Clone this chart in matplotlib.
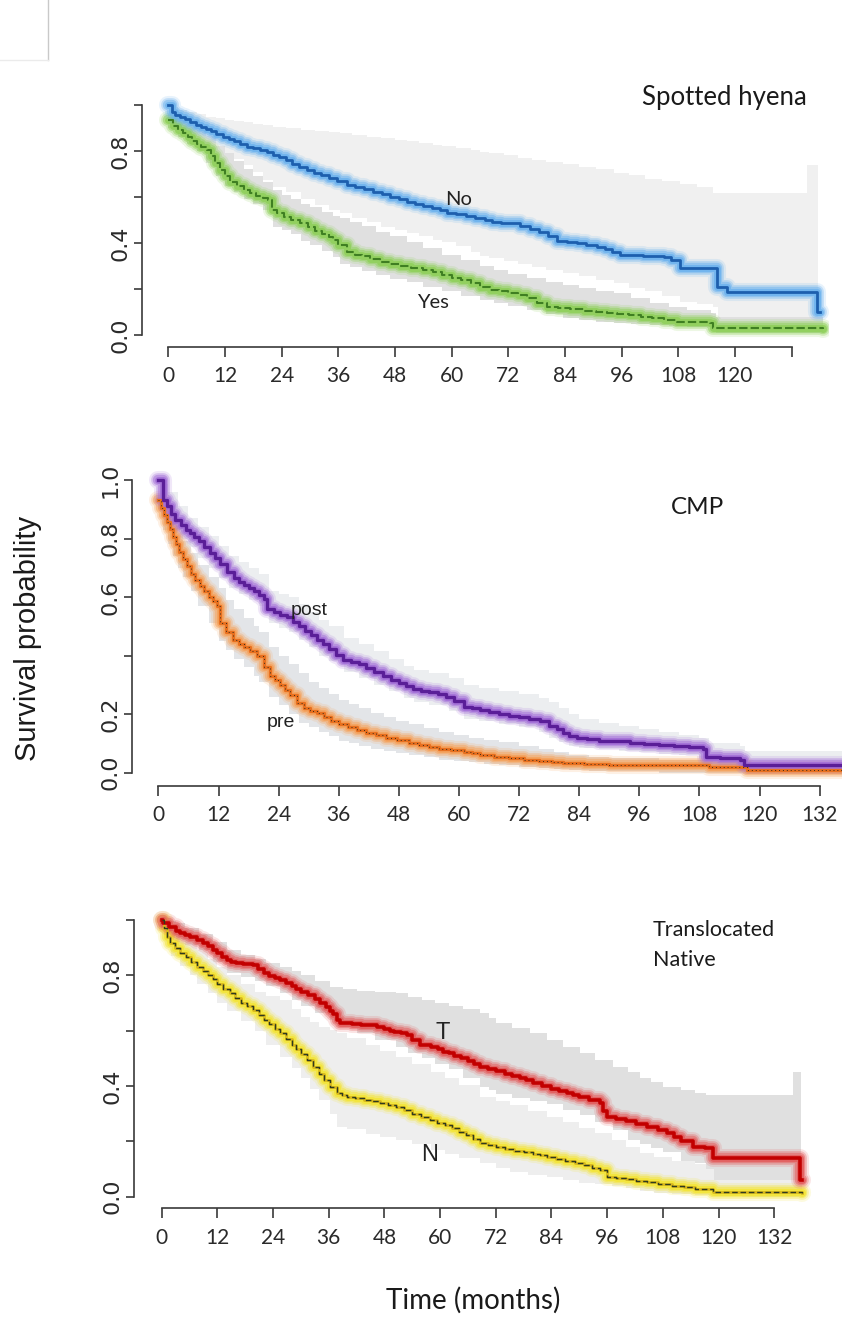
import matplotlib
matplotlib.use("Agg")
import matplotlib.pyplot as plt
from matplotlib import font_manager
from matplotlib.lines import Line2D

# ---------------- data ----------------
# Kaplan-Meier curves as (month, survival) steps; CIs as (month, lower, upper)
# Panel 1: Spotted hyena
no_curve = [(0, 1.0), (0.7, 0.97), (1.5, 0.958), (2.5, 0.948), (3.5, 0.938), (4.6, 0.927), (5.8, 0.915),
            (7, 0.905), (8, 0.895), (9, 0.885), (10.2, 0.873), (11.6, 0.862), (12.8, 0.852), (14, 0.842),
            (15.2, 0.831), (16.6, 0.819), (18, 0.812), (19.5, 0.805), (21, 0.795), (22.2, 0.783),
            (23.5, 0.772), (25, 0.76), (26.3, 0.745), (27.7, 0.732), (29.3, 0.717), (30.8, 0.706),
            (32.3, 0.695), (34, 0.683), (35.8, 0.668), (37.8, 0.652), (39.5, 0.645), (41.5, 0.636),
            (43.4, 0.623), (45.3, 0.612), (47, 0.60), (48.8, 0.59), (50.5, 0.58), (52.3, 0.571),
            (54, 0.562), (55.8, 0.553), (57.5, 0.544), (59, 0.529), (61, 0.524), (63, 0.516), (65, 0.507),
            (67, 0.499), (68.5, 0.493), (70.5, 0.489), (72.5, 0.485), (74.5, 0.475), (76.5, 0.462),
            (78.5, 0.448), (80.5, 0.43), (82.3, 0.41), (84.5, 0.404), (86.5, 0.398), (88.5, 0.392),
            (90.7, 0.384), (92.5, 0.375), (94, 0.362), (95.7, 0.348), (98, 0.346), (100.5, 0.344),
            (103, 0.342), (105, 0.34), (106.5, 0.325), (108.4, 0.29), (116.1, 0.21), (118.3, 0.188),
            (137.4, 0.10), (138, 0.10)]
no_ci = [(0, 1.0, 1.0), (1, 0.95, 0.99), (2, 0.92, 0.98), (4, 0.89, 0.97), (6, 0.86, 0.96), (8, 0.83, 0.95),
         (10, 0.81, 0.945), (12, 0.79, 0.935), (14, 0.765, 0.93), (16, 0.74, 0.925), (18, 0.71, 0.918),
         (20, 0.675, 0.912), (22.2, 0.645, 0.905), (25, 0.62, 0.90), (28, 0.59, 0.893), (31, 0.565, 0.887),
         (34, 0.545, 0.882), (36.4, 0.53, 0.877), (39, 0.51, 0.87), (42, 0.49, 0.862), (45, 0.47, 0.856),
         (48, 0.455, 0.85), (50.5, 0.442, 0.843), (53, 0.43, 0.836), (56, 0.415, 0.828), (58, 0.405, 0.82),
         (61, 0.385, 0.812), (64, 0.36, 0.803), (66, 0.345, 0.797), (68, 0.333, 0.79), (71, 0.32, 0.781),
         (74, 0.31, 0.77), (77, 0.295, 0.762), (80, 0.283, 0.753), (83.5, 0.27, 0.743), (87, 0.255, 0.732),
         (90.5, 0.24, 0.72), (94.3, 0.225, 0.705), (97.5, 0.205, 0.695), (101, 0.19, 0.68),
         (104.5, 0.17, 0.668), (108.4, 0.145, 0.655), (111.9, 0.135, 0.645), (115.4, 0.123, 0.617),
         (116.5, 0.07, 0.617), (135.2, 0.07, 0.74), (137.6, 0.07, 0.74)]

yes_curve = [(0, 0.935), (1, 0.91), (2.1, 0.893), (3.2, 0.877), (4.1, 0.862), (5, 0.845), (6, 0.832),
             (7, 0.818), (8.1, 0.804), (9, 0.78), (9.9, 0.748), (10.9, 0.717), (12, 0.69), (13.1, 0.667),
             (14.5, 0.65), (16, 0.632), (17.3, 0.616), (18.6, 0.605), (20, 0.596), (21.2, 0.587),
             (21.9, 0.545), (23, 0.53), (24.5, 0.515), (26, 0.50), (27.9, 0.486), (29.5, 0.468),
             (31, 0.452), (32.5, 0.438), (34, 0.424), (34.9, 0.413), (36, 0.39), (37.8, 0.36),
             (39.5, 0.35), (41, 0.342), (42.8, 0.332), (44.8, 0.319), (47, 0.31), (49, 0.302),
             (51.5, 0.293), (54, 0.283), (56, 0.272), (58, 0.26), (60, 0.25), (62, 0.24), (64, 0.225),
             (66, 0.21), (68.1, 0.196), (70, 0.19), (72, 0.182), (74, 0.172), (76, 0.16), (78, 0.14),
             (80.1, 0.123), (82.5, 0.118), (85, 0.112), (88, 0.105), (90.5, 0.10), (92.8, 0.094),
             (95, 0.09), (97.5, 0.085), (100, 0.08), (102.5, 0.074), (105, 0.066), (107.7, 0.058),
             (111, 0.055), (114.7, 0.051), (115.4, 0.029), (138.7, 0.025)]
yes_ci = [(0, 0.90, 0.96), (2, 0.86, 0.94), (4, 0.83, 0.92), (6, 0.80, 0.90), (8, 0.75, 0.865),
          (10, 0.69, 0.82), (12, 0.65, 0.79), (14, 0.62, 0.755), (16, 0.59, 0.72), (18, 0.57, 0.69),
          (20, 0.545, 0.665), (22.2, 0.47, 0.63), (24, 0.455, 0.61), (26, 0.44, 0.59), (28, 0.41, 0.57),
          (30, 0.39, 0.555), (32.5, 0.365, 0.535), (34.9, 0.34, 0.518), (36.4, 0.31, 0.507),
          (38.5, 0.295, 0.49), (41, 0.28, 0.473), (44, 0.262, 0.45), (47, 0.245, 0.43),
          (50.5, 0.23, 0.406), (54, 0.21, 0.38), (58, 0.19, 0.35), (62, 0.17, 0.325), (66, 0.152, 0.30),
          (69, 0.14, 0.282), (72, 0.128, 0.265), (76, 0.11, 0.248), (80, 0.09, 0.232),
          (83.5, 0.075, 0.218), (87, 0.065, 0.205), (90.5, 0.058, 0.192), (94.3, 0.052, 0.181),
          (98, 0.047, 0.16), (102, 0.043, 0.14), (106, 0.038, 0.122), (109.8, 0.033, 0.109),
          (115, 0.025, 0.094), (116, 0.01, 0.08), (138.7, 0.01, 0.08)]

# Panel 2: CMP
post_curve = [(0, 1.0), (1, 0.932), (1.8, 0.91), (2.5, 0.885), (3.3, 0.863), (4.5, 0.845), (5.5, 0.83),
              (6.3, 0.818), (7.2, 0.805), (8.2, 0.79), (9.2, 0.77), (10.3, 0.75), (11.2, 0.732),
              (12.2, 0.712), (13.6, 0.685), (15, 0.665), (16, 0.652), (17, 0.641), (18, 0.63), (19, 0.62),
              (20, 0.608), (21, 0.595), (21.6, 0.56), (23, 0.548), (24.3, 0.54), (25.6, 0.533),
              (26.8, 0.515), (28, 0.50), (29.2, 0.485), (30.4, 0.47), (31.6, 0.455), (32.8, 0.44),
              (34, 0.422), (35.5, 0.403), (36.9, 0.385), (38.5, 0.377), (40, 0.37), (41.5, 0.358),
              (43, 0.345), (44.9, 0.332), (46.5, 0.318), (48, 0.305), (49.5, 0.295), (50.9, 0.285),
              (52.5, 0.28), (54, 0.275), (55.8, 0.268), (57.5, 0.26), (59, 0.245), (60.9, 0.225),
              (62.5, 0.22), (64.2, 0.214), (66, 0.207), (68, 0.20), (70, 0.195), (72, 0.19), (74, 0.184),
              (76.2, 0.176), (78, 0.16), (79.5, 0.148), (80.8, 0.137), (82, 0.125), (83.5, 0.118),
              (85.5, 0.114), (88, 0.11), (90.5, 0.107), (94.1, 0.103), (97, 0.099), (100, 0.095),
              (103, 0.092), (106, 0.088), (108.8, 0.08), (109.4, 0.055), (112, 0.05), (116.1, 0.044),
              (116.8, 0.026), (140, 0.026)]
post_ci = [(0, 1.0, 1.0), (1, 0.87, 0.985), (2, 0.84, 0.96), (4, 0.80, 0.91), (6, 0.77, 0.87),
           (8, 0.735, 0.84), (10, 0.70, 0.81), (12, 0.665, 0.775), (14, 0.63, 0.74), (16, 0.61, 0.72),
           (18, 0.59, 0.70), (20, 0.57, 0.68), (22, 0.51, 0.62), (24, 0.495, 0.61), (26, 0.48, 0.60),
           (28, 0.455, 0.575), (30, 0.43, 0.55), (32, 0.40, 0.52), (34, 0.38, 0.50), (37, 0.345, 0.46),
           (40, 0.325, 0.44), (43, 0.30, 0.415), (46, 0.28, 0.39), (49, 0.255, 0.365), (51, 0.24, 0.35),
           (54, 0.23, 0.34), (58, 0.21, 0.325), (61, 0.185, 0.30), (64, 0.175, 0.29), (68, 0.165, 0.28),
           (72, 0.155, 0.27), (76, 0.14, 0.255), (78, 0.12, 0.24), (80, 0.105, 0.22), (82, 0.09, 0.20),
           (84, 0.085, 0.185), (88, 0.08, 0.17), (92, 0.075, 0.16), (96, 0.07, 0.15), (100, 0.065, 0.14),
           (104, 0.06, 0.13), (108, 0.05, 0.12), (110, 0.03, 0.10), (116, 0.02, 0.09),
           (117, 0.005, 0.075), (140, 0.005, 0.075)]

pre_curve = [(0, 0.93), (0.6, 0.905), (1.2, 0.88), (1.8, 0.855), (2.3, 0.831), (2.9, 0.805), (3.5, 0.78),
             (4.2, 0.755), (5, 0.729), (5.7, 0.705), (6.5, 0.68), (7.4, 0.658), (8.3, 0.638), (9.1, 0.62),
             (10, 0.60), (10.8, 0.585), (11.6, 0.569), (12.3, 0.512), (13.5, 0.48), (14.9, 0.455),
             (16, 0.44), (17, 0.43), (18.3, 0.415), (19.6, 0.398), (21, 0.36), (22.3, 0.33),
             (23.2, 0.315), (24.2, 0.30), (25.2, 0.283), (26.2, 0.265), (27.6, 0.237), (29, 0.22),
             (30.3, 0.21), (31.6, 0.203), (33, 0.19), (34.5, 0.178), (36, 0.165), (37.8, 0.155),
             (39.6, 0.146), (41.5, 0.137), (43.5, 0.128), (45.5, 0.12), (47.6, 0.112), (50, 0.103),
             (52, 0.095), (54, 0.088), (56, 0.082), (58.5, 0.077), (60.9, 0.072), (62.5, 0.066),
             (64.2, 0.06), (67, 0.055), (70, 0.05), (73, 0.045), (76, 0.04), (78.5, 0.036), (80.8, 0.032),
             (85, 0.03), (90, 0.028), (100, 0.026), (110, 0.02), (117.4, 0.009), (140, 0.005)]
pre_ci = [(0, 0.90, 0.95), (1, 0.83, 0.92), (2, 0.78, 0.88), (3, 0.74, 0.835), (4, 0.70, 0.81),
          (5, 0.67, 0.79), (6.5, 0.62, 0.75), (8, 0.57, 0.71), (10, 0.51, 0.67), (12, 0.45, 0.63),
          (13.5, 0.42, 0.59), (15, 0.39, 0.56), (17, 0.36, 0.53), (19, 0.33, 0.50), (20, 0.31, 0.48),
          (22, 0.26, 0.43), (24, 0.23, 0.40), (26, 0.20, 0.37), (28, 0.17, 0.34), (30, 0.155, 0.31),
          (32, 0.14, 0.29), (34, 0.125, 0.27), (36, 0.11, 0.25), (38, 0.10, 0.235), (40, 0.09, 0.22),
          (42.5, 0.082, 0.205), (45, 0.075, 0.19), (47.5, 0.067, 0.177), (50, 0.06, 0.165),
          (53, 0.052, 0.152), (56, 0.045, 0.14), (59, 0.04, 0.13), (62, 0.035, 0.12), (65, 0.03, 0.112),
          (68, 0.025, 0.105), (72, 0.02, 0.092), (76, 0.015, 0.08), (79, 0.012, 0.07), (82, 0.01, 0.06),
          (86, 0.007, 0.055), (90, 0.005, 0.05), (100, 0.0, 0.045), (110, 0.0, 0.04), (118, 0.0, 0.03),
          (140, 0.0, 0.03)]

# Panel 3: Translocated (T) / Native (N)
t_curve = [(0, 1.0), (0.3, 0.988), (1.5, 0.975), (3, 0.96), (4, 0.952), (5, 0.945), (6.2, 0.937),
           (7.5, 0.928), (8.8, 0.917), (10, 0.905), (11, 0.893), (12, 0.88), (13, 0.867), (14, 0.855),
           (15, 0.85), (16, 0.845), (17.5, 0.842), (19.7, 0.837), (20.8, 0.824), (22, 0.81),
           (23.2, 0.797), (24.4, 0.79), (25.5, 0.783), (26.8, 0.772), (28, 0.76), (29, 0.75), (30, 0.74),
           (31.5, 0.728), (33, 0.715), (34.2, 0.70), (35.5, 0.687), (36.3, 0.672), (37, 0.66),
           (37.7, 0.64), (38.4, 0.627), (41, 0.625), (43, 0.622), (44.9, 0.62), (46.5, 0.614),
           (48, 0.607), (49.2, 0.60), (50, 0.595), (51.5, 0.59), (52.8, 0.584), (54, 0.568),
           (55.7, 0.55), (58, 0.542), (59.5, 0.532), (60.7, 0.524), (62, 0.518), (63, 0.51), (64.5, 0.50),
           (66, 0.49), (67.3, 0.48), (68.6, 0.47), (70.3, 0.462), (72, 0.455), (74, 0.445), (75.6, 0.436),
           (77.2, 0.428), (78.6, 0.42), (80, 0.41), (82, 0.40), (84, 0.39), (85.6, 0.382), (87.3, 0.374),
           (88.6, 0.367), (90, 0.36), (92, 0.35), (94.5, 0.338), (95.2, 0.31), (95.9, 0.289),
           (98, 0.282), (100, 0.275), (102.3, 0.264), (104.5, 0.253), (107, 0.24), (108.9, 0.229),
           (110.5, 0.215), (112, 0.20), (114.6, 0.181), (117, 0.175), (118.9, 0.139), (137.6, 0.06),
           (138, 0.06)]
t_ci = [(0, 1.0, 1.0), (1.5, 0.95, 0.995), (3, 0.93, 0.99), (5, 0.91, 0.97), (8, 0.89, 0.95),
        (11, 0.85, 0.92), (14, 0.81, 0.892), (17, 0.795, 0.875), (20, 0.78, 0.86), (22.5, 0.76, 0.845),
        (25.5, 0.735, 0.831), (28, 0.71, 0.815), (30, 0.69, 0.80), (33, 0.665, 0.78), (36.2, 0.639, 0.759),
        (39, 0.615, 0.752), (42, 0.59, 0.745), (46, 0.565, 0.74), (50.6, 0.542, 0.735), (53, 0.52, 0.722),
        (56, 0.50, 0.71), (59, 0.48, 0.70), (62, 0.46, 0.69), (65, 0.43, 0.677), (68.6, 0.398, 0.663),
        (70.5, 0.385, 0.645), (72, 0.37, 0.627), (75.5, 0.355, 0.61), (79.4, 0.345, 0.59),
        (83, 0.335, 0.565), (86.5, 0.315, 0.54), (90.1, 0.295, 0.518), (93.4, 0.27, 0.495),
        (97.3, 0.24, 0.47), (100.6, 0.205, 0.45), (103, 0.19, 0.43), (105.5, 0.175, 0.415),
        (108.1, 0.16, 0.398), (112, 0.13, 0.385), (115, 0.12, 0.375), (117.3, 0.10, 0.368),
        (119, 0.06, 0.368), (136, 0.06, 0.452), (137.8, 0.06, 0.452)]

n_curve = [(0, 1.0), (0.5, 0.97), (1.2, 0.94), (1.8, 0.916), (2.9, 0.898), (4, 0.88), (5.2, 0.865),
           (6.3, 0.848), (7.5, 0.831), (8.8, 0.815), (10, 0.80), (11, 0.785), (12, 0.77), (13.3, 0.752),
           (14.7, 0.735), (15.9, 0.718), (17, 0.70), (18.3, 0.688), (19.7, 0.675), (20.9, 0.658),
           (22, 0.64), (23.2, 0.624), (24.4, 0.607), (25.5, 0.59), (26.8, 0.57), (28, 0.55), (29, 0.533),
           (30, 0.515), (31.4, 0.493), (32.7, 0.47), (33.9, 0.445), (35, 0.42), (36.3, 0.397),
           (37.7, 0.374), (38.8, 0.367), (40, 0.36), (41.7, 0.355), (43.5, 0.35), (45.3, 0.345),
           (47, 0.34), (48.8, 0.332), (50.6, 0.325), (52.3, 0.312), (54, 0.30), (55.9, 0.288),
           (57.8, 0.277), (59.4, 0.268), (61, 0.26), (62.5, 0.248), (64, 0.235), (65.5, 0.222),
           (67, 0.207), (68.6, 0.193), (70.3, 0.187), (72, 0.18), (74, 0.172), (76, 0.165), (78, 0.16),
           (80, 0.155), (81.5, 0.15), (83, 0.145), (85, 0.138), (87, 0.13), (89, 0.122), (91, 0.115),
           (92.8, 0.105), (94.5, 0.096), (95.9, 0.072), (98, 0.067), (100, 0.063), (102.3, 0.058),
           (104.5, 0.054), (107, 0.047), (110, 0.04), (112.5, 0.034), (115, 0.028), (118.9, 0.018),
           (138, 0.012)]
n_ci = [(0, 1.0, 1.0), (1, 0.92, 0.985), (2, 0.87, 0.96), (4, 0.835, 0.935), (6, 0.80, 0.91),
        (7.5, 0.77, 0.89), (10, 0.735, 0.86), (12, 0.70, 0.83), (14, 0.67, 0.80), (17, 0.635, 0.77),
        (20, 0.60, 0.74), (22.5, 0.55, 0.725), (25.5, 0.506, 0.711), (28, 0.465, 0.68), (30, 0.43, 0.65),
        (32, 0.39, 0.63), (34, 0.35, 0.615), (36.2, 0.30, 0.602), (37.7, 0.253, 0.59), (40, 0.245, 0.575),
        (44, 0.225, 0.55), (47, 0.215, 0.528), (50.6, 0.205, 0.506), (54, 0.19, 0.48), (58, 0.17, 0.45),
        (61, 0.155, 0.43), (64, 0.14, 0.405), (68.6, 0.12, 0.362), (72, 0.105, 0.345), (75, 0.09, 0.33),
        (79, 0.08, 0.31), (83, 0.07, 0.289), (86.5, 0.06, 0.27), (90, 0.05, 0.25), (93.4, 0.045, 0.229),
        (97, 0.04, 0.205), (100, 0.03, 0.18), (103, 0.02, 0.157), (106, 0.015, 0.145), (110, 0.01, 0.13),
        (115, 0.005, 0.118), (119, 0.003, 0.108), (125, 0.0, 0.10), (138, 0.0, 0.09)]

x_ticks = [0, 12, 24, 36, 48, 60, 72, 84, 96, 108, 120, 132]
y_ticks = [0.0, 0.2, 0.4, 0.6, 0.8, 1.0]

# ---------------- fonts ----------------
avail = {f.name for f in font_manager.fontManager.ttflist}


def pick(*names):
    for n in names:
        if n in avail:
            return n
    return "DejaVu Sans"


HUMAN = pick("Lato", "Open Sans")
ARIAL = pick("Liberation Sans", "DejaVu Sans")
NARROW = pick("Liberation Sans Narrow", "Liberation Sans")
ROUND = "DejaVu Sans"

W, H = 842, 1331
fig = plt.figure(figsize=(W / 100, H / 100), dpi=100)
fig.patch.set_facecolor("white")

# screenshot artefact in top-left corner
fig.add_artist(Line2D([48 / W, 48 / W], [1, 1 - 60 / H], color="#c9c9c9", lw=1.0))
fig.add_artist(Line2D([0, 48 / W], [1 - 60 / H, 1 - 60 / H], color="#ebebeb", lw=1.0))


def make_panel(x_t0, ppm, y_s0, ppu, yaxis_px, xaxis_px, right_px, top_px, ylabels, xlabels):
    ax = fig.add_axes([yaxis_px / W, 1 - xaxis_px / H,
                       (right_px - yaxis_px) / W, (xaxis_px - top_px) / H])
    ax.set_xlim((yaxis_px - x_t0) / ppm, (right_px - x_t0) / ppm)
    ax.set_ylim((y_s0 - xaxis_px) / ppu, (y_s0 - top_px) / ppu)
    ax.patch.set_alpha(0)
    for s in ("top", "right"):
        ax.spines[s].set_visible(False)
    ax.spines["left"].set_bounds(0, 1)
    ax.spines["bottom"].set_bounds(0, 132)
    for s in ("left", "bottom"):
        ax.spines[s].set_color("#3a3a3a")
        ax.spines[s].set_linewidth(1.2)
    ax.set_yticks(y_ticks)
    ax.set_yticklabels(ylabels, rotation=90, va="center", fontfamily=ROUND, fontsize=16,
                       color="#2a2a2a")
    ax.set_xticks(x_ticks)
    ax.set_xticklabels(xlabels, fontfamily=HUMAN, fontsize=15, color="#2a2a2a")
    ax.tick_params(axis="y", length=6, width=1.2, color="#3a3a3a", pad=2)
    ax.tick_params(axis="x", length=7, width=1.2, color="#3a3a3a", pad=7)
    return ax


def band(ax, ci, color):
    t, lo, hi = zip(*ci)
    ax.fill_between(t, lo, hi, step="post", color=color, lw=0, zorder=1)


def glow(ax, curve, gcol, ccol, clw=1.8, cls="-", z=3):
    t, s = zip(*curve)
    for lw, a in ((13.0, 0.16), (10.0, 0.3), (7.5, 0.5), (5.0, 0.85)):
        ax.plot(t, s, drawstyle="steps-post", color=gcol, lw=lw, alpha=a, zorder=z,
                solid_joinstyle="round", solid_capstyle="round")
    ax.plot(t, s, drawstyle="steps-post", color=ccol, lw=clw, ls=cls, zorder=z + 0.5)
    return t, s


lab_p1 = ["0.0", "", "0.4", "", "0.8", ""]
lab_p2 = ["0.0", "0.2", "", "0.6", "0.8", "1.0"]
xl_all = [str(v) for v in x_ticks]
xl_p1 = xl_all[:-1] + [""]

# ---- Panel 1 ----
ax1 = make_panel(168.3, 4.722, 335.0, 230.0, 141.7, 346.7, 829.0, 88.0, lab_p1, xl_p1)
band(ax1, no_ci, "#f0f0f0")
band(ax1, yes_ci, "#e0e0e0")
glow(ax1, yes_curve, "#8fd05a", "#3f7f22", clw=1.5, cls=(0, (4, 1.5)))
glow(ax1, no_curve, "#6db3ee", "#1d5fae", clw=2.0)
ax1.text(61.5, 0.59, "No", fontfamily=HUMAN, fontsize=14.5, color="#222", ha="center", va="center", zorder=6)
ax1.text(56, 0.143, "Yes", fontfamily=HUMAN, fontsize=14.5, color="#222", ha="center", va="center", zorder=6)
fig.text(724 / W, 1 - 97 / H, "Spotted hyena", fontfamily=HUMAN, fontsize=18.5, color="#1a1a1a",
         ha="center", va="center")

# ---- Panel 2 ----
ax2 = make_panel(158.4, 5.01, 772.7, 292.7, 131.7, 786.0, 842.0, 455.0, lab_p2, xl_all)
band(ax2, post_ci, "#eceef0")
band(ax2, pre_ci, "#e3e5e8")
pt, ps = glow(ax2, pre_curve, "#f5a25c", "#e8701f", clw=2.4)
ax2.plot(pt, ps, drawstyle="steps-post", color="#3a2a1a", lw=0.7, ls=(0, (1, 3)), zorder=4)
glow(ax2, post_curve, "#a36ed8", "#5a1e98", clw=2.4)
ax2.text(30.1, 0.555, "post", fontfamily=NARROW, fontsize=14, color="#222", ha="center", va="center", zorder=6)
ax2.text(24.5, 0.17, "pre", fontfamily=NARROW, fontsize=14, color="#222", ha="center", va="center", zorder=6)
fig.text(697 / W, 1 - 507 / H, "CMP", fontfamily=HUMAN, fontsize=17.5, color="#1a1a1a",
         ha="center", va="center")
fig.text(28 / W, 1 - 638 / H, "Survival probability", fontfamily=ARIAL, fontsize=21,
         color="#1a1a1a", rotation=90, ha="center", va="center")

# ---- Panel 3 ----
ax3 = make_panel(161.7, 4.64, 1196.7, 276.7, 134.0, 1208.3, 830.0, 895.0, lab_p1, xl_all)
band(ax3, n_ci, "#eeeeee")
band(ax3, t_ci, "#e0e0e0")
nt, ns = glow(ax3, n_curve, "#f4e536", "#d8b81c", clw=2.0)
ax3.plot(nt, ns, drawstyle="steps-post", color="#2e3a20", lw=1.0, ls=(0, (4, 2)), zorder=4)
glow(ax3, t_curve, "#e35d5d", "#c20000", clw=2.6)
ax3.text(60.6, 0.59, "T", fontfamily=ARIAL, fontsize=17, color="#222", ha="center", va="center", zorder=6)
ax3.text(57.8, 0.15, "N", fontfamily=ARIAL, fontsize=17, color="#222", ha="center", va="center", zorder=6)
fig.text(653 / W, 1 - 930 / H, "Translocated", fontfamily=HUMAN, fontsize=15.5, color="#1a1a1a",
         ha="left", va="center")
fig.text(653 / W, 1 - 960 / H, "Native", fontfamily=HUMAN, fontsize=15.5, color="#1a1a1a",
         ha="left", va="center")
fig.text(473 / W, 1 - 1300 / H, "Time (months)", fontfamily=HUMAN, fontsize=20, color="#1a1a1a",
         ha="center", va="center")

fig.savefig("out.png", dpi=100, facecolor="white")
